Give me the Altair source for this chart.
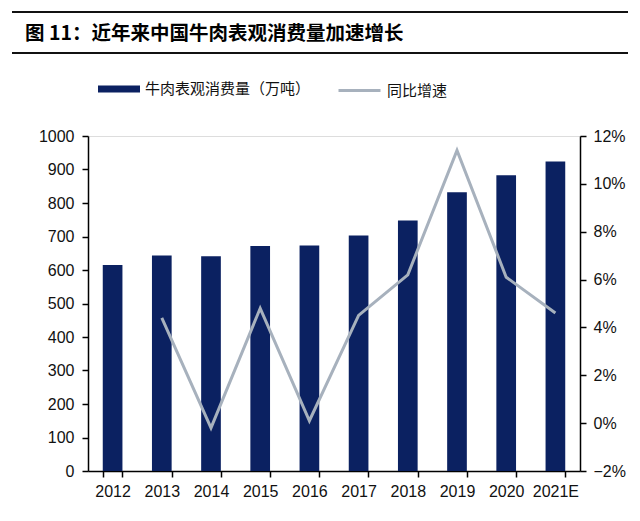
import altair as alt
import pandas as pd

years = ["2012", "2013", "2014", "2015", "2016", "2017", "2018", "2019", "2020", "2021E"]
consumption = [615, 643, 641, 672, 673, 703, 748, 832, 883, 924]
growth = [None, 0.044, -0.002, 0.048, 0.001, 0.045, 0.062, 0.114, 0.061, 0.046]
bar_name = "牛肉表观消费量（万吨）"
line_name = "同比增速"
title_text = "图 11：近年来中国牛肉表观消费量加速增长"

df = pd.DataFrame({"year": years, "cons": consumption, "g": growth,
                   "s1": bar_name, "s2": line_name})

FONT = "Liberation Sans"
CJK = "Noto Sans CJK SC"

x = alt.X("year:N", sort=years, title=None,
          scale=alt.Scale(paddingInner=0.6, paddingOuter=0.3),
          axis=alt.Axis(labelAngle=0, labelFont=FONT, labelFontSize=16, labelColor="#111",
                        domainColor="#000", domainWidth=1.5, tickColor="#000", tickWidth=1.5,
                        tickSize=6, tickBand="extent", labelPadding=6))

bars = alt.Chart(df).mark_bar(color="#0B2161").encode(
    x=x,
    y=alt.Y("cons:Q", title=None,
            scale=alt.Scale(domain=[0, 1000], nice=False),
            axis=alt.Axis(values=list(range(0, 1001, 100)), format="d", grid=False,
                          labelFont=FONT, labelFontSize=16, labelColor="#111",
                          domainColor="#000", domainWidth=1.5, tickColor="#000",
                          tickWidth=1.5, tickSize=6, labelPadding=8)),
    fill=alt.Fill("s1:N", scale=alt.Scale(domain=[bar_name], range=["#0B2161"]),
                  legend=alt.Legend(title=None, orient="none", legendX=10, legendY=-68,
                                    symbolType="M-1,-0.17H1V0.17H-1Z", symbolSize=1764,
                                    symbolStrokeWidth=0, labelFont=CJK, labelFontSize=15,
                                    labelColor="#111", labelOffset=5, labelLimit=400)),
)

line = alt.Chart(df).mark_line(strokeWidth=3).encode(
    x=alt.X("year:N", sort=years),
    y=alt.Y("g:Q", title=None,
            scale=alt.Scale(domain=[-0.02, 0.12], nice=False),
            axis=alt.Axis(orient="right", values=[-0.02, 0, 0.02, 0.04, 0.06, 0.08, 0.10, 0.12],
                          format=".0%", grid=False, labelFont=FONT, labelFontSize=16,
                          labelColor="#111", domainColor="#000", domainWidth=1.5,
                          tickColor="#000", tickWidth=1.5, tickSize=6, labelPadding=7)),
    stroke=alt.Stroke("s2:N", scale=alt.Scale(domain=[line_name], range=["#A7B1BD"]),
                      legend=alt.Legend(title=None, orient="none", legendX=249, legendY=-68,
                                        symbolType="stroke", symbolSize=1764,
                                        symbolStrokeWidth=3, labelFont=CJK, labelFontSize=15,
                                        labelColor="#111", labelOffset=5, labelLimit=400)),
)

one = pd.DataFrame({"t": [title_text]})
title = alt.Chart(one).mark_text(font=CJK, fontSize=19.5, fontWeight="bold", align="left",
                                 baseline="middle", color="#000").encode(
    text="t:N", x=alt.value(-63), y=alt.value(-102))
rule_top = alt.Chart(one).mark_rule(color="#111", strokeWidth=2).encode(
    x=alt.value(-76), x2=alt.value(540), y=alt.value(-124))
rule_bot = alt.Chart(one).mark_rule(color="#111", strokeWidth=2).encode(
    x=alt.value(-76), x2=alt.value(540), y=alt.value(-83))

chart = alt.layer(bars, line, title, rule_top, rule_bot).resolve_scale(
    y="independent", fill="independent", stroke="independent"
).properties(
    width=492, height=335,
    autosize=alt.AutoSizeParams(type="none"),
    padding={"left": 80, "top": 128, "right": 52, "bottom": 40},
).configure_view(stroke=None).configure(background="white")

chart.save("out.html", embed_options={"renderer": "svg", "actions": False})
